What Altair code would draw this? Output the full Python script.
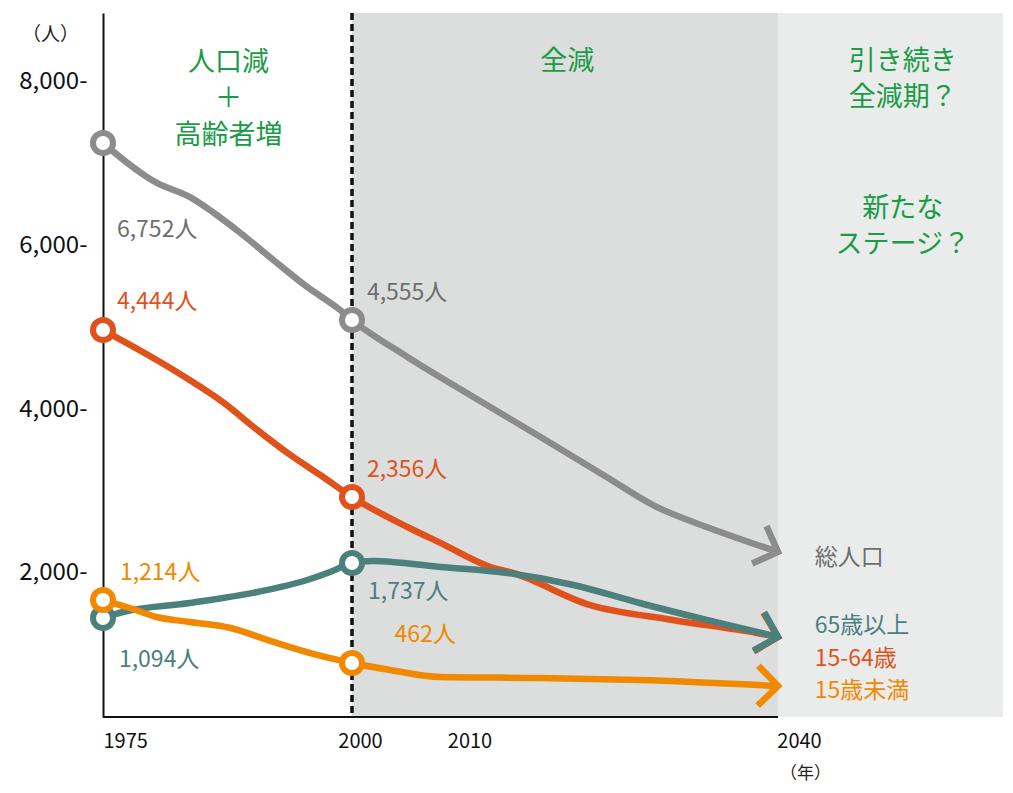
import altair as alt
import pandas as pd

FONT = "Noto Sans CJK JP"

# ---- data ----
SERIES = ["総人口", "15-64歳", "65歳以上", "15歳未満"]
COLORS = {"総人口": "#8c8c8c", "15-64歳": "#e0521b", "65歳以上": "#4b807d", "15歳未満": "#f08800"}
TEXT_COLORS = {"総人口": "#6e6e6e", "15-64歳": "#e0521b", "65歳以上": "#4b807d", "15歳未満": "#f08800"}
ARROW_ANGLE = {"総人口": 21, "15-64歳": 14, "65歳以上": 16, "15歳未満": 1}

YEARS_TOTAL = [1975, 1980.4, 1983.7, 1986.0, 1988.8, 1992.1, 1995.5, 1998.8, 2000,
               2005.2, 2011.4, 2017.7, 2023.9, 2028.6, 2033.3, 2040]
TOTAL = [7255, 6766, 6595, 6411, 6155, 5825, 5495, 5214, 5092,
         4640, 4151, 3662, 3173, 2807, 2562, 2257]

YEARS_WORK = [1975, 1980.4, 1983.7, 1987.0, 1990.5, 1993.8, 1997.1, 2000,
              2005.2, 2008.3, 2013.0, 2015.1, 2022.3, 2030.1, 2038.0, 2040]
WORK = [4969, 4603, 4358, 4090, 3747, 3442, 3173, 2929,
        2562, 2367, 2073, 2000, 1609, 1426, 1267, 1218]

YEARS_OLD = [1975, 1977.0, 1983.7, 1990.5, 1995.5, 1997.8, 2000,
             2002.0, 2008.3, 2014.6, 2020.8, 2027.0, 2033.3, 2040]
OLD = [1450, 1523, 1633, 1768, 1914, 2012, 2122,
       2147, 2073, 2000, 1853, 1633, 1426, 1218]

YEARS_YOUNG = [1975, 1977.7, 1980.4, 1983.7, 1987.8, 1992.1, 1996.5, 2000,
               2003.6, 2008.3, 2017.7, 2027.0, 2040]
YOUNG = [1670, 1572, 1462, 1401, 1328, 1157, 998, 900,
         815, 729, 717, 692, 619]

MARKER_YEARS = [1975, 2000]
END_YEAR = 2040

# value labels
LBL_SERIES = ["総人口", "15-64歳", "総人口", "15-64歳", "65歳以上", "15歳未満", "15歳未満", "65歳以上"]
LBL_TEXT = ["6,752人", "4,444人", "4,555人", "2,356人", "1,737人", "462人", "1,214人", "1,094人"]
LBL_YEAR = [1976.4, 1976.4, 2001.4, 2001.4, 2001.5, 2004.0, 1976.7, 1976.6]
LBL_Y = [6191, 5312, 5422, 3259, 1768, 1242, 2000, 937]

# series names at right
NAME_YEAR = 2043.6
NAME_Y = {"総人口": 2183, "65歳以上": 1352, "15-64歳": 949, "15歳未満": 558}

# phase annotations (multi-line blocks; y is the first line)
PHASE_TEXT = ["人口減\n＋\n高齢者増", "全減", "引き続き\n全減期？", "新たな\nステージ？"]
PHASE_YEAR = [1987.6, 2020.2, 2052.2, 2052.2]
PHASE_Y = [8232, 8245, 8245, 6448]

REGION_START = [2000, 2040]
REGION_END = [2040, 2062]
REGION_FILL = ["#dcdddd", "#eaecec"]

DIVIDER_YEAR = 2000
X_TICKS = [1975, 2000, 2010, 2040]
Y_TICKS = [2000, 4000, 6000, 8000]
Y_MIN, Y_MAX = 240, 8843

W, H = 900, 704

x_scale = alt.Scale(domain=[1975, 2000, 2040, 2062], range=[0, 249, 675, W], nice=False, zero=False)
y_scale = alt.Scale(domain=[Y_MIN, Y_MAX], nice=False, zero=False)

X_AX = alt.Axis(values=X_TICKS, format="d", grid=False, domain=False, ticks=False,
                labelFontSize=20, labelColor="#111", labelFont=FONT, labelPadding=14,
                labelOffset={"condition": [{"test": "datum.value == 2000", "value": 8},
                                           {"test": "datum.value == 2010", "value": 11},
                                           {"test": "datum.value == 2040", "value": 21}],
                             "value": 0},
                title="（年）", titleFontSize=17, titleFontWeight="normal", titleColor="#222",
                titleFont=FONT, titleX=702, titleY=56, titleAlign="center", titleBaseline="middle")
Y_AX = alt.Axis(values=Y_TICKS, grid=False, ticks=False, domainColor="#111", domainWidth=2,
                labelExpr="format(datum.value, ',') + '-'", labelFontSize=24, labelColor="#111",
                labelFont=FONT, labelPadding=16,
                title="（人）", titleAngle=0, titleX=-53, titleY=21, titleFontSize=19,
                titleFontWeight="normal", titleColor="#222", titleFont=FONT,
                titleAlign="center", titleBaseline="middle")

def X(field):
    return alt.X(field, type="quantitative", scale=x_scale, axis=X_AX)

def Y(field):
    return alt.Y(field, type="quantitative", scale=y_scale, axis=Y_AX)

regions = pd.DataFrame({"start": REGION_START, "end": REGION_END, "fill": REGION_FILL})
rects = alt.Chart(regions).mark_rect().encode(
    x=X("start"), x2="end", y=alt.value(0), y2=alt.value(H),
    color=alt.Color("fill:N", scale=None))

baseline = alt.Chart(pd.DataFrame({"start": [1975], "end": [END_YEAR], "y": [Y_MIN]})).mark_rule(
    color="#111", strokeWidth=2).encode(x=X("start"), x2="end", y=Y("y"))

divider = alt.Chart(pd.DataFrame({"year": [DIVIDER_YEAR]})).mark_rule(
    color="#111", strokeWidth=3.5, strokeDash=[7, 4]).encode(
    x=X("year"), y=alt.value(0), y2=alt.value(H))

series_data = {
    "総人口": (YEARS_TOTAL, TOTAL),
    "15-64歳": (YEARS_WORK, WORK),
    "65歳以上": (YEARS_OLD, OLD),
    "15歳未満": (YEARS_YOUNG, YOUNG),
}

layers = [rects, baseline, divider]
for s in SERIES:
    yrs, vals = series_data[s]
    df = pd.DataFrame({"year": yrs, "value": vals})
    base = alt.Chart(df)
    line = base.mark_line(interpolate="monotone", strokeWidth=6.5, color=COLORS[s]).encode(
        x=X("year"), y=Y("value"))
    arrow = base.transform_filter(alt.datum.year == END_YEAR).mark_point(
        shape="M-1,-1L0,0L-1,1", filled=False, size=1600, strokeWidth=6.5,
        stroke=COLORS[s], opacity=1, angle=ARROW_ANGLE[s]).encode(x=X("year"), y=Y("value"))
    circles = base.transform_filter(
        alt.FieldOneOfPredicate(field="year", oneOf=MARKER_YEARS)).mark_point(
        shape="circle", filled=True, fill="white", stroke=COLORS[s], strokeWidth=6,
        size=400, opacity=1).encode(x=X("year"), y=Y("value"))
    layers += [line, arrow, circles]

labels = pd.DataFrame({"series": LBL_SERIES, "text": LBL_TEXT, "year": LBL_YEAR, "y": LBL_Y})
labels["color"] = labels["series"].map(TEXT_COLORS)
value_labels = alt.Chart(labels).mark_text(
    align="left", baseline="middle", fontSize=23, font=FONT).encode(
    x=X("year"), y=Y("y"), text="text:N", color=alt.Color("color:N", scale=None))

names = pd.DataFrame({"text": list(NAME_Y.keys()), "y": list(NAME_Y.values())})
names["year"] = NAME_YEAR
names["color"] = names["text"].map(TEXT_COLORS)
name_labels = alt.Chart(names).mark_text(
    align="left", baseline="middle", fontSize=23, font=FONT).encode(
    x=X("year"), y=Y("y"), text="text:N", color=alt.Color("color:N", scale=None))

phases = pd.DataFrame({"text": PHASE_TEXT, "year": PHASE_YEAR, "y": PHASE_Y})
phase_labels = alt.Chart(phases).mark_text(
    align="center", baseline="middle", fontSize=27, font=FONT, color="#1a9b46",
    lineBreak="\n", lineHeight=36.5).encode(
    x=X("year"), y=Y("y"), text="text:N")

layers += [value_labels, name_labels, phase_labels]

chart = alt.layer(*layers).properties(
    width=W, height=H,
    autosize=alt.AutoSizeParams(type="none"),
    padding={"left": 95, "top": 5, "right": 0, "bottom": 66},
    background="white",
).configure_view(stroke=None).configure_text(font=FONT)

chart.save("out.html", embed_options={"renderer": "svg", "actions": False})
